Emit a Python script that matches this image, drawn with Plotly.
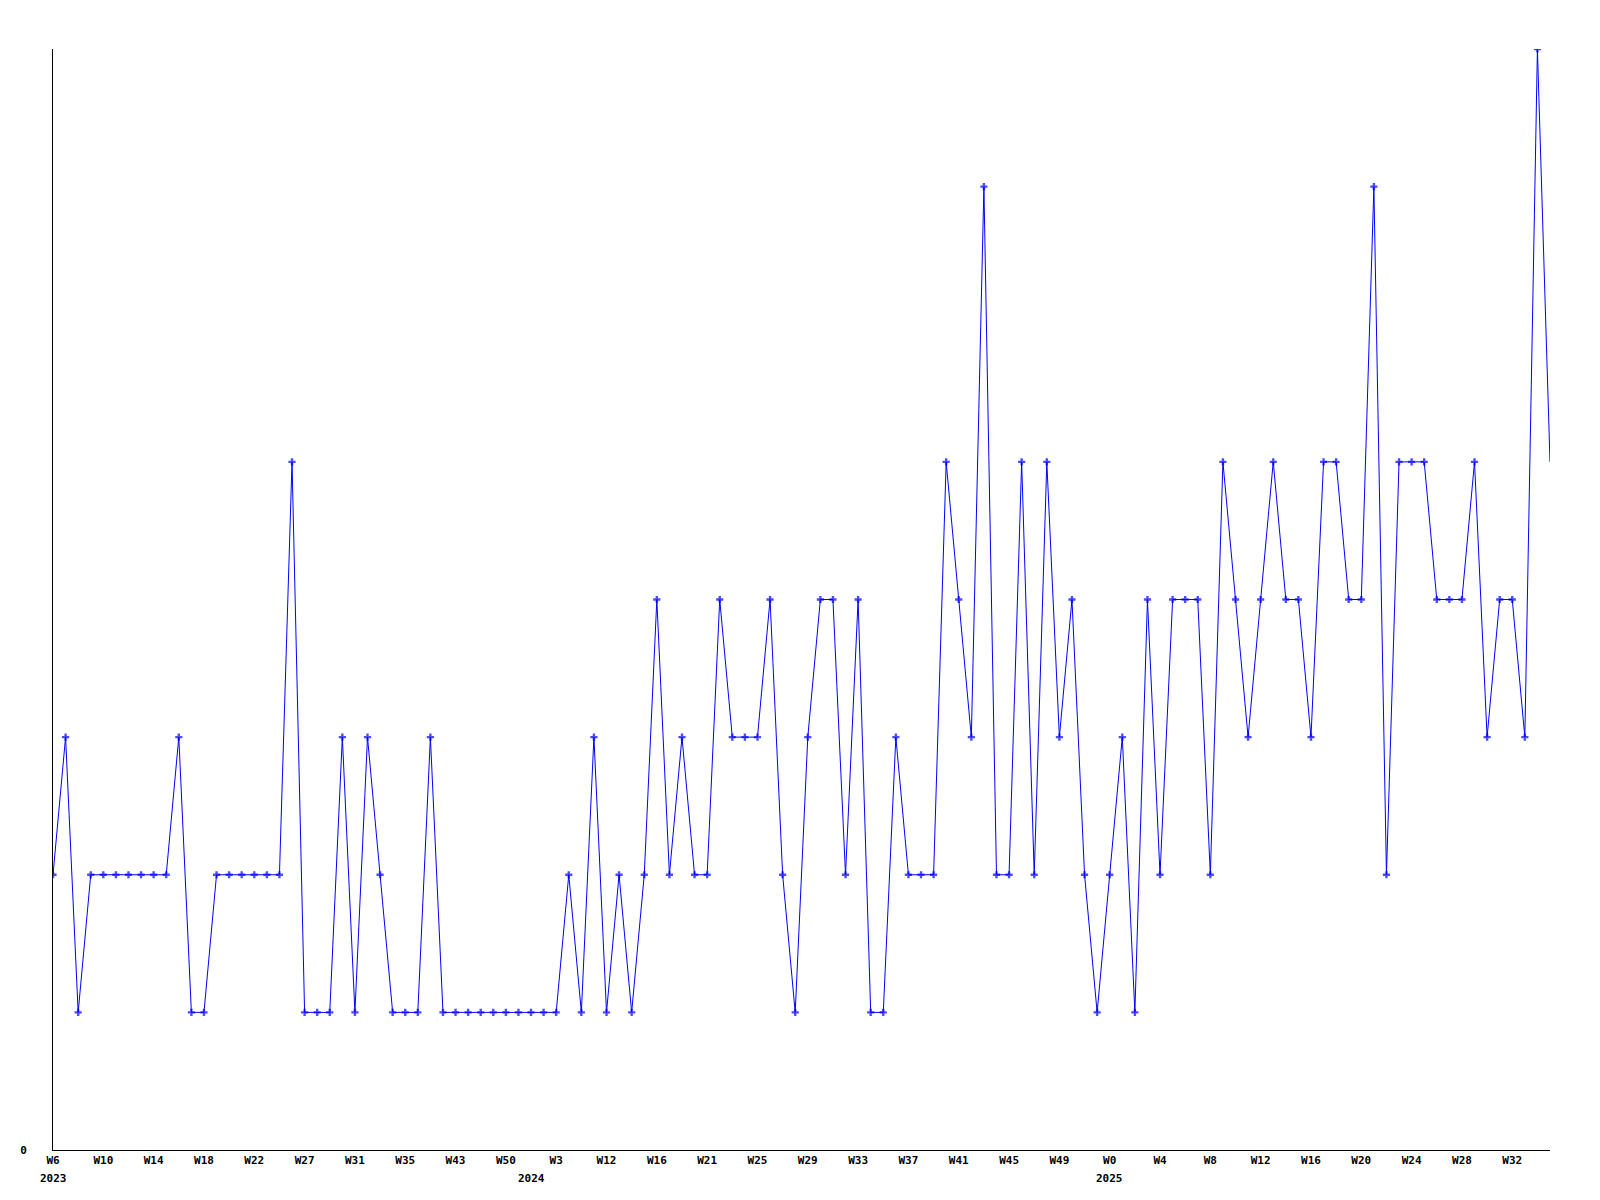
import plotly.graph_objects as go

# Weekly counts (categorical week index 0..119)
values = [2, 3, 1, 2, 2, 2, 2, 2, 2, 2,
          3, 1, 1, 2, 2, 2, 2, 2, 2, 5,
          1, 1, 1, 3, 1, 3, 2, 1, 1, 1,
          3, 1, 1, 1, 1, 1, 1, 1, 1, 1,
          1, 2, 1, 3, 1, 2, 1, 2, 4, 2,
          3, 2, 2, 4, 3, 3, 3, 4, 2, 1,
          3, 4, 4, 2, 4, 1, 1, 3, 2, 2,
          2, 5, 4, 3, 7, 2, 2, 5, 2, 5,
          3, 4, 2, 1, 2, 3, 1, 4, 2, 4,
          4, 4, 2, 5, 4, 3, 4, 5, 4, 4,
          3, 5, 5, 4, 4, 7, 2, 5, 5, 5,
          4, 4, 4, 5, 3, 4, 4, 3, 8, 5]

tick_positions = list(range(0, 120, 4))
tick_labels = ["W6", "W10", "W14", "W18", "W22", "W27", "W31", "W35", "W43", "W50",
               "W3", "W12", "W16", "W21", "W25", "W29", "W33", "W37", "W41", "W45",
               "W49", "W0", "W4", "W8", "W12", "W16", "W20", "W24", "W28", "W32"]

year_positions = [0, 38, 84]
year_labels = ["2023", "2024", "2025"]

x = list(range(len(values)))
sizes = [6] * (len(values) - 1) + [0]

FONT = dict(family="DejaVu Sans Mono", size=11, color="black")

fig = go.Figure()
fig.add_trace(go.Scatter(
    x=x, y=values, mode="lines+markers",
    line=dict(color="#0000FF", width=1),
    marker=dict(symbol="cross", size=sizes, color="#0000FF", line=dict(width=0)),
    showlegend=False, hoverinfo="skip",
))

for xp, lab in zip(year_positions, year_labels):
    fig.add_annotation(x=xp, y=0, xref="x", yref="paper", text="<b>" + lab + "</b>",
                       showarrow=False, yshift=-20, yanchor="top", font=FONT)

fig.update_layout(
    width=1600, height=1200,
    margin=dict(l=40, r=58, t=41, b=58),
    paper_bgcolor="white", plot_bgcolor="white",
    font=FONT,
)
fig.update_xaxes(
    range=[0, len(values) - 1], showgrid=False, zeroline=False,
    showline=True, linecolor="black", linewidth=1,
    tickmode="array", tickvals=tick_positions,
    ticktext=["<b>" + t + "</b>" for t in tick_labels],
    ticks="", ticklen=0, tickfont=FONT,
)
fig.update_yaxes(
    range=[0, 8], showgrid=False, zeroline=False,
    showline=True, linecolor="black", linewidth=1,
    tickmode="array", tickvals=[0], ticktext=["<b>0</b>"],
    ticks="", ticklabelstandoff=23, tickfont=FONT,
)

fig.write_html("out.html")
